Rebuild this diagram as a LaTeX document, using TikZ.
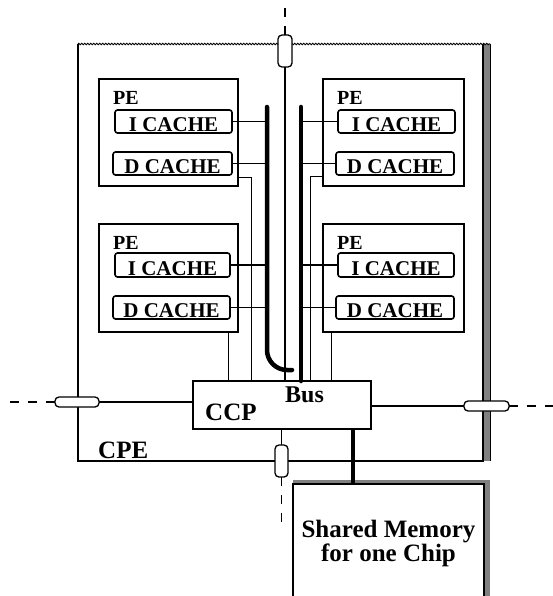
\documentclass[tikz,border=0pt]{standalone}
\usepackage{fontspec}
\setmainfont{Liberation Serif}
\usetikzlibrary{fit,decorations.pathmorphing}
\begin{document}
\begin{tikzpicture}[x=1pt,y=-1pt,
  box/.style={draw, line width=1.5pt, inner sep=0pt, outer sep=0pt},
  pebox/.style={box},
  cachebox/.style={box, line width=1.6pt, rounded corners=2.5pt, anchor=north west,
     font=\fontsize{21}{24}\selectfont\bfseries, text height=20.5pt, text depth=0pt},
  pelabel/.style={anchor=base west, inner sep=0pt, font=\fontsize{20}{24}\selectfont\bfseries},
  biglabel/.style={anchor=base west, inner sep=0pt, font=\fontsize{25}{28}\selectfont\bfseries},
  pill/.style={draw, fill=white, line width=1.3pt, rounded corners=4pt, inner sep=0pt, outer sep=0pt},
  edge/.style={line width=1.4pt},
  wire/.style={line width=1.6pt},
  thinwire/.style={line width=0.9pt},
  bus/.style={line width=4.5pt, line cap=round},
  memlink/.style={line width=4.5pt},
  ext/.style={line width=1.1pt, dash pattern=on 9pt off 9pt},
  stipple/.style={fill=black!50}
]
\useasboundingbox (0,0) rectangle (553,596);

% ---- CPE frame ----
\node[inner sep=0pt, outer sep=0pt, fit={(78,44) (483,461)}] (cpe) {};
\fill[stipple] (cpe.north east) rectangle ([xshift=7pt]cpe.south east);
\draw[edge] (cpe.north west) -- (cpe.south west) -- (cpe.south east) -- (cpe.north east);
\draw[line width=1pt, decorate, decoration={zigzag, segment length=3pt, amplitude=0.7pt}]
  (cpe.north west) -- ([xshift=7pt]cpe.north east);
\draw[line width=0.8pt] ([xshift=7pt]cpe.north east) -- ([xshift=7pt]cpe.south east);
\node[biglabel] (cpelabel) at ([xshift=20pt,yshift=3pt]cpe.south west) {CPE};

% ---- PE boxes ----
\node[pebox, fit={(99,79) (238,186)}] (tlpe) {};
\node[pebox, fit={(323,79) (464,186)}] (trpe) {};
\node[pebox, fit={(99,224) (238,332)}] (llpe) {};
\node[pebox, fit={(323,224) (464,332)}] (lrpe) {};
\node[pelabel] (tlpel) at ([xshift=14pt,yshift=-26pt]tlpe.north west) {PE};
\node[pelabel] (trpel) at ([xshift=14pt,yshift=-26pt]trpe.north west) {PE};
\node[pelabel] (llpel) at ([xshift=14pt,yshift=-25pt]llpe.north west) {PE};
\node[pelabel] (lrpel) at ([xshift=14pt,yshift=-25pt]lrpe.north west) {PE};

% ---- caches ----
\node[cachebox, minimum width=117pt, minimum height=23pt] (tli) at (115,110) {I CACHE};
\node[cachebox, minimum width=119pt, minimum height=23pt] (tld) at (113,152) {D CACHE};
\node[cachebox, minimum width=117pt, minimum height=23pt] (tri) at (338,110) {I CACHE};
\node[cachebox, minimum width=118pt, minimum height=23pt] (trd) at (336,152) {D CACHE};
\node[cachebox, minimum width=115pt, minimum height=24pt] (lli) at (115,253) {I CACHE};
\node[cachebox, minimum width=117pt, minimum height=23pt] (lld) at (113,296) {D CACHE};
\node[cachebox, minimum width=116pt, minimum height=24pt] (lri) at (338,253) {I CACHE};
\node[cachebox, minimum width=118pt, minimum height=23pt] (lrd) at (336,296) {D CACHE};

% ---- CCP ----
\node[box, fit={(193,381) (371,429)}] (ccp) {};
\node[biglabel] (ccplabel) at ([xshift=12pt,yshift=9pt]ccp.south west) {CCP};
\node[biglabel, font=\fontsize{24}{28}\selectfont\bfseries] (buslabel) at ([xshift=92pt,yshift=-21pt]ccp.north west) {Bus};

% ---- buses ----
\coordinate (busLtop) at (267,107);
\coordinate (busLend) at (292,370);
\coordinate (busRtop) at (301,107);
\draw[bus, rounded corners=20pt] (busLtop) |- (busLend);
\draw[bus] (busRtop) -- (busRtop |- ccp.north);

% cache to bus wires
\draw[wire] (tli.east) -- (tli.east -| busLtop);
\draw[wire] (tld.east) -- (tld.east -| busLtop);
\draw[wire] (lli.east) -- (lli.east -| busLtop);
\draw[wire] (lld.east) -- (lld.east -| busLtop);
\draw[wire] (tri.west) -- (tri.west -| busRtop);
\draw[wire] (trd.west) -- (trd.west -| busRtop);
\draw[wire] (lri.west) -- (lri.west -| busRtop);
\draw[wire] (lrd.west) -- (lrd.west -| busRtop);

% thin PE-to-CCP wires
\coordinate (tltap) at ([yshift=9pt]tlpe.south east);
\coordinate (tlx) at ([xshift=13pt]tlpe.south east);
\draw[thinwire] (tltap) -| (tlx |- ccp.north);
\coordinate (trtap) at ([yshift=10pt]trpe.south west);
\coordinate (trx) at ([xshift=-13pt]trpe.south west);
\draw[thinwire] (trtap) -| (trx |- ccp.north);
\coordinate (llx) at ([xshift=-10pt]llpe.south east);
\draw[thinwire] (llx) -- (llx |- ccp.north);
\coordinate (lrx) at ([xshift=8pt]lrpe.south west);
\draw[thinwire] (lrx) -- (lrx |- ccp.north);

% ---- shared memory ----
\node[inner sep=0pt, outer sep=0pt, fit={(293,484) (484,596)}] (sm) {};
\fill[stipple] ([yshift=4pt]sm.north west) rectangle ([xshift=6pt]sm.north east);
\fill[stipple] (sm.north east) rectangle ([xshift=6pt]sm.south east);
\draw[edge] (sm.south west) -- (sm.north west) -- (sm.north east) -- (sm.south east);
\node[align=center, inner sep=0pt, font=\fontsize{25}{21.5}\selectfont\bfseries] (smtext)
  at ([yshift=-3pt]sm.center) {Shared Memory\\for one Chip};
\coordinate (smtap) at (353,429);
\draw[memlink] (smtap) -- (smtap |- sm.north);

% ---- pills (chip ports) ----
\node[pill, fit={(278,35) (292,67)}] (pt) {};
\node[pill, fit={(275,445) (288,477)}] (pb) {};
\node[pill, fit={(55,397) (99,407)}] (pl) {};
\node[pill, fit={(464,401) (509,411)}] (pr) {};

\draw[wire] (pt.south) -- (pt.south |- ccp.north);
\draw[wire] (pb.north) -- (pb.north |- ccp.south);
\draw[wire] (pl.east) -- (pl.east -| ccp.west);
\draw[wire] (ccp.east |- pr.west) -- (pr.west);

% external dashed links
\coordinate (dt) at (285,3);
\coordinate (db) at (281.5,527);
\coordinate (dl) at (5,402);
\coordinate (dr) at (553,406);
\draw[ext] (pt.north) -- (dt);
\draw[ext] (pb.south) -- (db);
\draw[ext] (pl.west) -- (dl);
\draw[ext] (pr.east) -- (dr);
\end{tikzpicture}
\end{document}
